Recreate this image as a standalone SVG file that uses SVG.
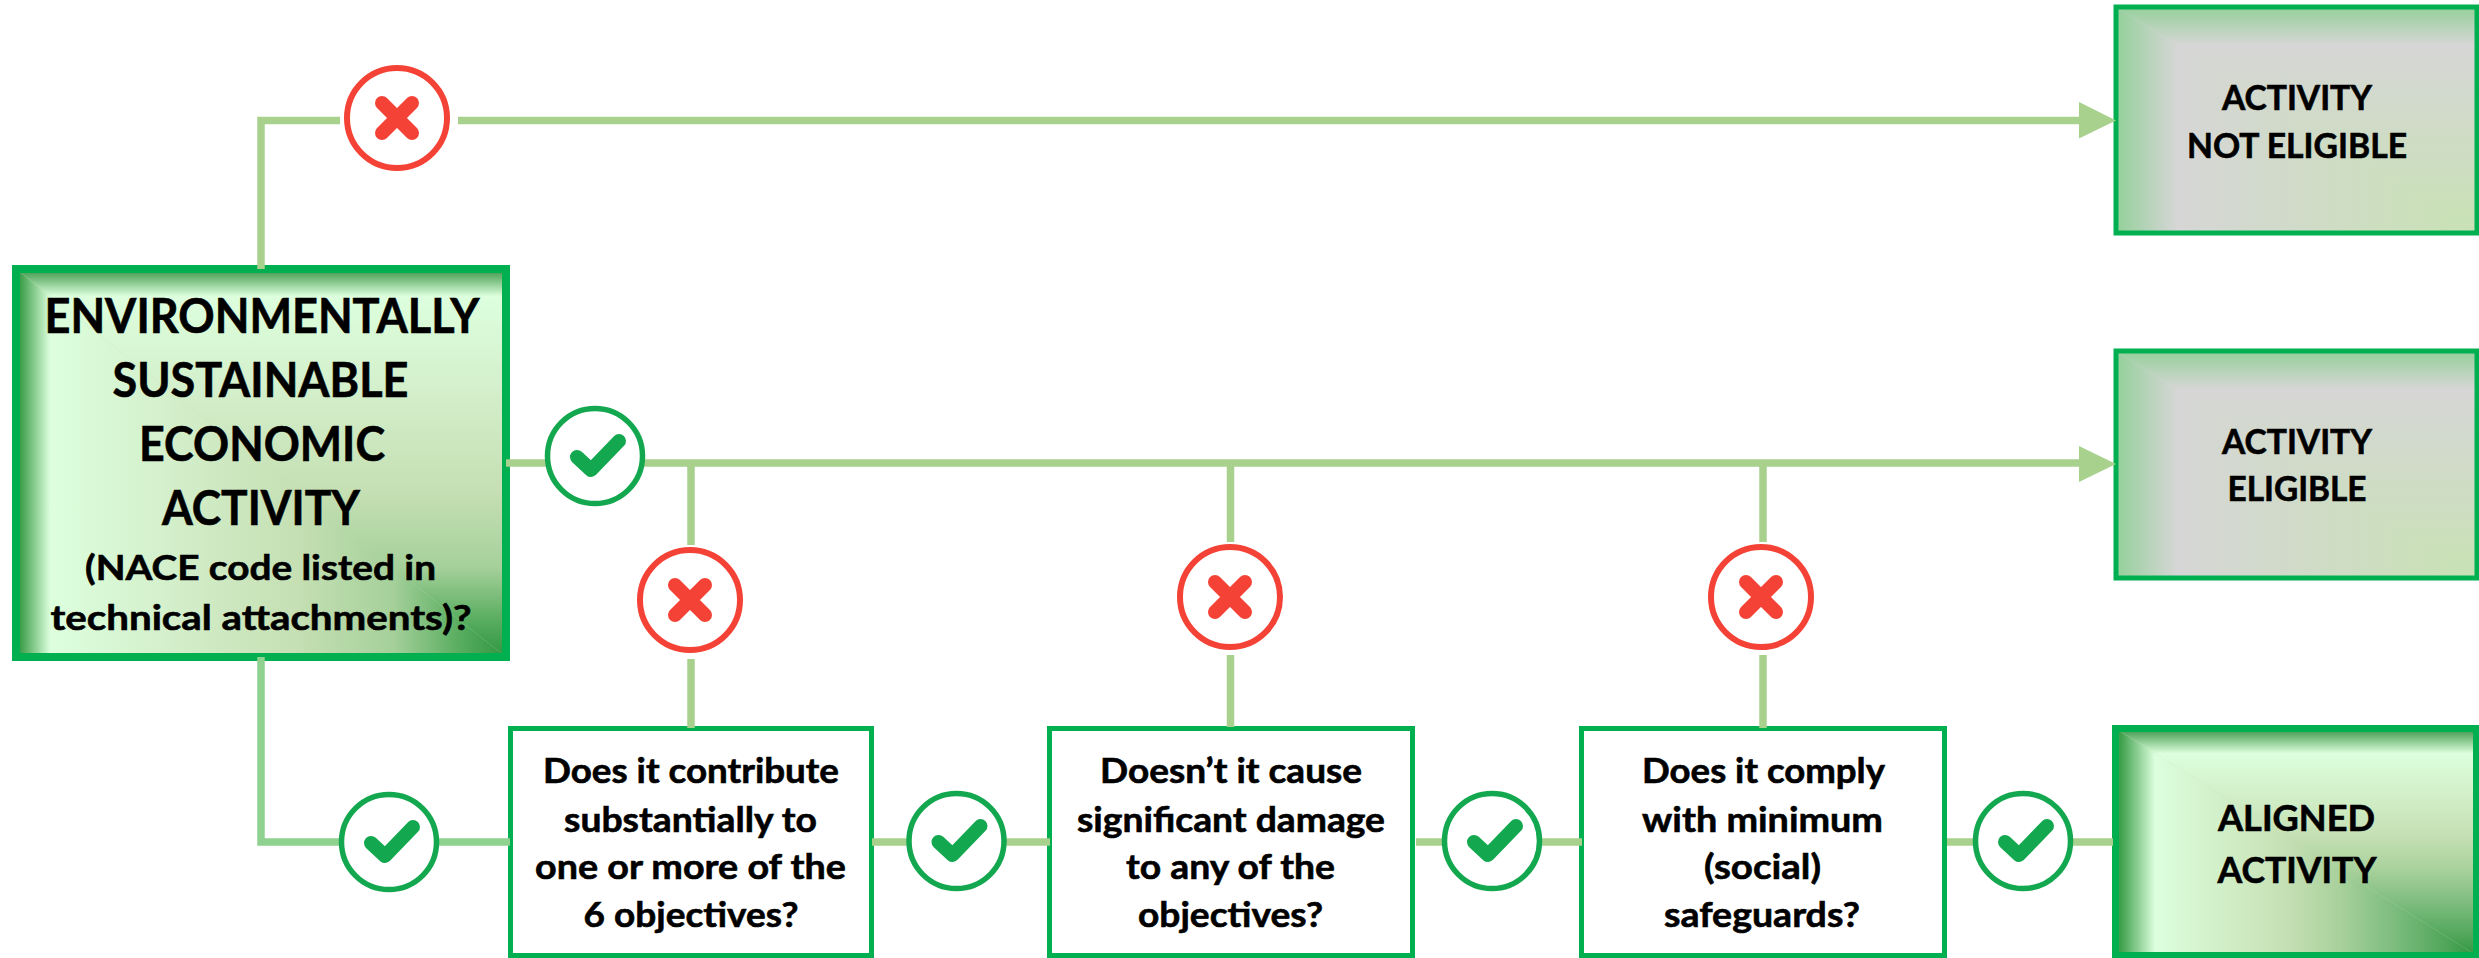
<svg xmlns="http://www.w3.org/2000/svg" width="2479" height="958" viewBox="0 0 2479 958">
<style>
.t{font-family:Lato,"Liberation Sans",sans-serif;font-weight:700;fill:#000;stroke:#000;stroke-width:.6;text-anchor:middle}
.l{fill:none;stroke:#A9D18E;stroke-width:7.500}
.ok circle{fill:#fff;stroke:#13A84F;stroke-width:5.500}
.ok path{fill:none;stroke:#13A84F;stroke-width:14;stroke-linecap:round;stroke-linejoin:round}
.no circle{fill:#fff;stroke:#F44336;stroke-width:6}
.no path{fill:none;stroke:#F44336;stroke-width:14;stroke-linecap:round}
.q{fill:#fff;stroke:#00B050;stroke-width:5}
.b{fill:none;stroke:#00B050}
</style>
<defs>
<linearGradient id="mh" x1="1" x2="0" y1="0" y2="0"><stop offset="0" stop-color="#2E9640"/><stop offset=".1" stop-color="#5BAE62"/><stop offset=".23" stop-color="#A5D09A"/><stop offset=".43" stop-color="#C6E0B4"/><stop offset=".7" stop-color="#D4F0CC"/><stop offset=".93" stop-color="#DDFFDD"/><stop offset=".99" stop-color="#3FA04C"/></linearGradient>
<linearGradient id="mv" x1="0" x2="0" y1="1" y2="0"><stop offset="0" stop-color="#2E9640"/><stop offset=".1" stop-color="#5BAE62"/><stop offset=".23" stop-color="#A5D09A"/><stop offset=".43" stop-color="#C6E0B4"/><stop offset=".7" stop-color="#D4F0CC"/><stop offset=".93" stop-color="#DDFFDD"/><stop offset=".99" stop-color="#4FA35A"/></linearGradient>
<linearGradient id="ah" x1="1" x2="0" y1="0" y2="0"><stop offset="0" stop-color="#2E9640"/><stop offset=".08" stop-color="#4FA55A"/><stop offset=".22" stop-color="#7ABB7C"/><stop offset=".38" stop-color="#A9D19C"/><stop offset=".53" stop-color="#C6E0B4"/><stop offset=".89" stop-color="#DDFFDD"/><stop offset=".985" stop-color="#3FA04C"/></linearGradient>
<linearGradient id="av" x1="0" x2="0" y1="1" y2="0"><stop offset="0" stop-color="#2E9640"/><stop offset=".08" stop-color="#4FA55A"/><stop offset=".22" stop-color="#7ABB7C"/><stop offset=".38" stop-color="#A9D19C"/><stop offset=".53" stop-color="#C6E0B4"/><stop offset=".89" stop-color="#DDFFDD"/><stop offset=".985" stop-color="#4FA35A"/></linearGradient>
<linearGradient id="gh" x1="1" x2="0" y1="0" y2="0"><stop offset="0" stop-color="#C8E2B4"/><stop offset=".83" stop-color="#D6D6D6"/><stop offset="1" stop-color="#94D09A"/></linearGradient>
<linearGradient id="gv" x1="0" x2="0" y1="1" y2="0"><stop offset="0" stop-color="#C8E2B4"/><stop offset=".83" stop-color="#D6D6D6"/><stop offset="1" stop-color="#94D09A"/></linearGradient>
</defs>
<g id="n-start">
<rect x="16" y="269" width="490" height="388" fill="#C6E0B4"/>
<polygon points="16,269 506,657 16,657" fill="url(#mh)"/>
<polygon points="16,269 506,269 506,657" fill="url(#mv)"/>
<rect class="b" x="16" y="269" width="490" height="388" stroke-width="8"/>
<g class="t" font-size="47">
<text x="262" y="333" textLength="435" lengthAdjust="spacingAndGlyphs">ENVIRONMENTALLY</text>
<text x="260.500" y="397" textLength="296" lengthAdjust="spacingAndGlyphs">SUSTAINABLE</text>
<text x="262" y="461" textLength="246" lengthAdjust="spacingAndGlyphs">ECONOMIC</text>
<text x="261" y="525" textLength="198" lengthAdjust="spacingAndGlyphs">ACTIVITY</text>
<text x="260.500" y="580" font-size="35" textLength="351" lengthAdjust="spacingAndGlyphs">(NACE code listed in</text>
<text x="261" y="630" font-size="35" textLength="421" lengthAdjust="spacingAndGlyphs">technical attachments)?</text>
</g>
</g>
<g id="n-not-eligible">
<rect x="2116" y="7" width="361" height="226" fill="#D6D6D6"/>
<polygon points="2116,7 2477,233 2116,233" fill="url(#gh)"/>
<polygon points="2116,7 2477,7 2477,233" fill="url(#gv)"/>
<rect class="b" x="2116" y="7" width="361" height="226" stroke-width="5"/>
<g class="t" font-size="35">
<text x="2297" y="110" textLength="150" lengthAdjust="spacingAndGlyphs">ACTIVITY</text>
<text x="2297" y="158" textLength="220" lengthAdjust="spacingAndGlyphs">NOT ELIGIBLE</text>
</g>
</g>
<g id="n-eligible">
<rect x="2116" y="351" width="361" height="227" fill="#D6D6D6"/>
<polygon points="2116,351 2477,578 2116,578" fill="url(#gh)"/>
<polygon points="2116,351 2477,351 2477,578" fill="url(#gv)"/>
<rect class="b" x="2116" y="351" width="361" height="227" stroke-width="5"/>
<g class="t" font-size="35">
<text x="2297" y="454" textLength="150" lengthAdjust="spacingAndGlyphs">ACTIVITY</text>
<text x="2297" y="501" textLength="139" lengthAdjust="spacingAndGlyphs">ELIGIBLE</text>
</g>
</g>
<g id="n-aligned">
<rect x="2115.500" y="728.500" width="361" height="227" fill="#C6E0B4"/>
<polygon points="2115.500,728.500 2476.500,955.500 2115.500,955.500" fill="url(#ah)"/>
<polygon points="2115.500,728.500 2476.500,728.500 2476.500,955.500" fill="url(#av)"/>
<rect class="b" x="2115.500" y="728.500" width="361" height="227" stroke-width="7"/>
<g class="t" font-size="36">
<text x="2296.500" y="831" textLength="157" lengthAdjust="spacingAndGlyphs">ALIGNED</text>
<text x="2297" y="883" textLength="159" lengthAdjust="spacingAndGlyphs">ACTIVITY</text>
</g>
</g>
<g id="n-q1">
<rect class="q" x="510.500" y="728.500" width="361" height="227"/>
<g class="t" font-size="35">
<text x="691" y="783" textLength="296" lengthAdjust="spacingAndGlyphs">Does it contribute</text>
<text x="690.500" y="832" textLength="253" lengthAdjust="spacingAndGlyphs">substantially to</text>
<text x="690.500" y="879" textLength="311" lengthAdjust="spacingAndGlyphs">one or more of the</text>
<text x="691" y="927" textLength="215" lengthAdjust="spacingAndGlyphs">6 objectives?</text>
</g>
</g>
<g id="n-q2">
<rect class="q" x="1049.500" y="728.500" width="363" height="227"/>
<g class="t" font-size="35">
<text x="1231" y="783" textLength="262" lengthAdjust="spacingAndGlyphs">Doesn’t it cause</text>
<text x="1231" y="832" textLength="308" lengthAdjust="spacingAndGlyphs">significant damage</text>
<text x="1230.500" y="879" textLength="209" lengthAdjust="spacingAndGlyphs">to any of the</text>
<text x="1230.500" y="927" textLength="185" lengthAdjust="spacingAndGlyphs">objectives?</text>
</g>
</g>
<g id="n-q3">
<rect class="q" x="1581.500" y="728.500" width="363" height="227"/>
<g class="t" font-size="35">
<text x="1763.500" y="783" textLength="243" lengthAdjust="spacingAndGlyphs">Does it comply</text>
<text x="1762.500" y="832" textLength="241" lengthAdjust="spacingAndGlyphs">with minimum</text>
<text x="1762.500" y="879" textLength="117" lengthAdjust="spacingAndGlyphs">(social)</text>
<text x="1762" y="927" textLength="196" lengthAdjust="spacingAndGlyphs">safeguards?</text>
</g>
</g>
<g id="connectors">
<path class="l" d="M261 269V120.500H340M458 120.500H2085"/>
<path class="l" d="M506 463H2085"/>
<path class="l" d="M691 463V545M691 659V728M1230.500 463V542M1230.500 655V727M1763 463V542M1763 655V728"/>
<path class="l" style="stroke:#8FD18F" d="M261 657V842H510"/>
<path class="l" d="M872 842H1050M1416 842H1582M1947 842H2113"/>
<path fill="#A9D18E" d="M2079 102L2116 120.500L2079 138.500ZM2079 446L2116 464L2079 482Z"/>
</g>
<g id="no-1" class="no" transform="translate(397 118)"><circle r="50"/><path d="M-15 -15L15 15M15 -15L-15 15"/></g>
<g id="no-2" class="no" transform="translate(690 600)"><circle r="50"/><path d="M-15 -15L15 15M15 -15L-15 15"/></g>
<g id="no-3" class="no" transform="translate(1230 597)"><circle r="50"/><path d="M-15 -15L15 15M15 -15L-15 15"/></g>
<g id="no-4" class="no" transform="translate(1761 597)"><circle r="50"/><path d="M-15 -15L15 15M15 -15L-15 15"/></g>
<g id="ok-1" class="ok" transform="translate(595 456)"><circle r="47.500"/><path d="M-18 1L-4 14L24 -15"/></g>
<g id="ok-2" class="ok" transform="translate(389 842)"><circle r="47.500"/><path d="M-18 1L-4 14L24 -15"/></g>
<g id="ok-3" class="ok" transform="translate(956.500 841)"><circle r="47.500"/><path d="M-18 1L-4 14L24 -15"/></g>
<g id="ok-4" class="ok" transform="translate(1492 841)"><circle r="47.500"/><path d="M-18 1L-4 14L24 -15"/></g>
<g id="ok-5" class="ok" transform="translate(2023 841)"><circle r="47.500"/><path d="M-18 1L-4 14L24 -15"/></g>
</svg>
